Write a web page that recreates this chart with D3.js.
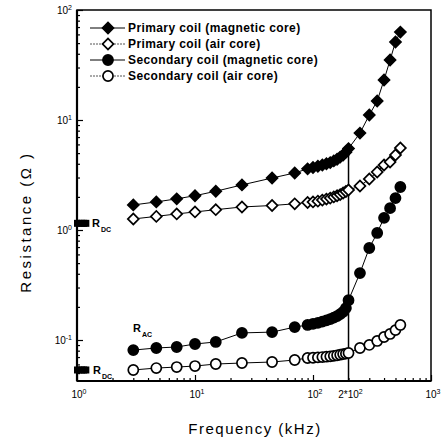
<!DOCTYPE html>
<html>
<head>
<meta charset="utf-8">
<script src="https://cdn.jsdelivr.net/npm/d3@7"></script>
<style>
  body { margin: 0; background: #fff; }
  svg { display: block; font-family: "Liberation Sans", Arial, sans-serif; }
</style>
</head>
<body>
<svg id="chart" width="444" height="441"></svg>
<script>
// frequency in kHz, same for every series
var freq = [3, 4.7, 7, 10, 15, 25, 45, 70, 90, 100, 110, 120, 130, 140, 150, 160, 170, 180, 190, 200,
            250, 300, 350, 400, 450, 500, 550];

// resistance in ohm
var primaryMagnetic = [1.69, 1.8, 1.92, 2.05, 2.25, 2.57, 2.97, 3.3, 3.6, 3.7, 3.8, 3.9, 4.0, 4.1, 4.25, 4.4, 4.6, 4.8, 5.1, 5.5,
                       7.6, 11.1, 14.9, 23.1, 35.1, 51.2, 63];
var primaryAir = [1.26, 1.33, 1.4, 1.46, 1.53, 1.62, 1.67, 1.73, 1.78, 1.8, 1.83, 1.87, 1.91, 1.95, 2.0, 2.05, 2.1, 2.17, 2.24, 2.31,
                  2.51, 2.91, 3.37, 3.9, 4.15, 4.81, 5.56];
var secondaryMagnetic = [0.081, 0.0846, 0.0864, 0.092, 0.096, 0.116, 0.118, 0.131, 0.137, 0.14, 0.143, 0.147, 0.151, 0.155, 0.16, 0.165, 0.172, 0.18, 0.195, 0.23,
                         0.406, 0.686, 0.94, 1.29, 1.58, 1.95, 2.46];
var secondaryAir = [0.0534, 0.0556, 0.0568, 0.058, 0.0605, 0.0618, 0.0631, 0.0658, 0.0686, 0.069, 0.0695, 0.07, 0.0705, 0.071, 0.0718, 0.0726, 0.0735, 0.0745, 0.0752, 0.0762,
                    0.0846, 0.0902, 0.098, 0.1065, 0.1135, 0.123, 0.137];

// DC resistance marks at the left edge
var rdcFreq = [1.0, 1.05, 1.1, 1.15, 1.2];
var rdcPrimary = 1.15;
var rdcSecondary = 0.0534;

var seriesNames = ["Primary coil (magnetic core)", "Primary coil (air core)",
                   "Secondary coil (magnetic core)", "Secondary coil (air core)"];

var markerFreq = 200;   // 2*10^2 marker line

var xTickValues = [1, 10, 100, 200, 1000];
var xTickBase = ["10", "10", "10", "2*10", "10"];
var xTickExp = ["0", "1", "2", "2", "3"];
var yTickValues = [0.1, 1, 10, 100];
var yTickExp = ["-1", "0", "1", "2"];

var svg = d3.select("#chart");

var x = d3.scaleLog().domain([1, 1000]).range([77, 431]);
var y = d3.scaleLog().domain([0.0424, 100]).range([381, 10]);

// minor ticks
var xMinor = [];
[1, 10, 100].forEach(function (d) {
    for (var k = 2; k <= 9; k++) xMinor.push(d * k);
});
var yMinor = [];
[0.01, 0.1, 1, 10].forEach(function (d) {
    for (var k = 2; k <= 9; k++) {
        var v = d * k;
        if (v > 0.0424 && v < 100) yMinor.push(v);
    }
});

svg.append("g")
    .attr("transform", "translate(0,381)")
    .call(d3.axisBottom(x).tickValues(xMinor).tickSize(-3).tickFormat(""))
    .call(function (g) { g.select(".domain").remove(); });
svg.append("g")
    .attr("transform", "translate(0,381)")
    .call(d3.axisBottom(x).tickValues([1, 10, 100, 1000]).tickSize(-6).tickFormat(""))
    .call(function (g) { g.select(".domain").remove(); });

svg.append("g")
    .attr("transform", "translate(77,0)")
    .call(d3.axisLeft(y).tickValues(yMinor).tickSize(-3).tickFormat(""))
    .call(function (g) { g.select(".domain").remove(); });
svg.append("g")
    .attr("transform", "translate(77,0)")
    .call(d3.axisLeft(y).tickValues(yTickValues).tickSize(-6).tickFormat(""))
    .call(function (g) { g.select(".domain").remove(); });

svg.selectAll(".tick line").attr("stroke", "#000").attr("stroke-width", 1.2);

// frame
svg.append("rect")
    .attr("x", 77).attr("y", 10)
    .attr("width", 431 - 77).attr("height", 381 - 10)
    .attr("fill", "none").attr("stroke", "#000").attr("stroke-width", 1.5);
svg.append("line")
    .attr("x1", 77).attr("x2", 77).attr("y1", 10).attr("y2", 381)
    .attr("stroke", "#000").attr("stroke-width", 2.2);
svg.append("line")
    .attr("x1", 77).attr("x2", 431).attr("y1", 381).attr("y2", 381)
    .attr("stroke", "#000").attr("stroke-width", 2.2);

// tick labels
var xl = svg.append("g").attr("font-size", 10).attr("text-anchor", "middle");
xTickValues.forEach(function (v, i) {
    var t = xl.append("text").attr("x", x(v) + 2).attr("y", 398);
    t.append("tspan").text(xTickBase[i]);
    t.append("tspan").attr("font-size", 7).attr("dy", -4).text(xTickExp[i]);
});
var yl = svg.append("g").attr("font-size", 10).attr("text-anchor", "end");
yTickValues.forEach(function (v, i) {
    var t = yl.append("text").attr("x", 72).attr("y", y(v) + 4);
    t.append("tspan").text("10");
    t.append("tspan").attr("font-size", 7).attr("dy", -4).text(yTickExp[i]);
});

// axis titles
svg.append("text")
    .attr("x", 255).attr("y", 434)
    .attr("text-anchor", "middle").attr("font-size", 15)
    .attr("letter-spacing", 1.5)
    .text("Frequency (kHz)");
svg.append("text")
    .attr("transform", "translate(31,222) rotate(-90)")
    .attr("text-anchor", "middle").attr("font-size", 15)
    .attr("letter-spacing", 2.5)
    .text("Resistance (\u03A9 )");

// 2*10^2 line
svg.append("line")
    .attr("x1", x(markerFreq)).attr("x2", x(markerFreq))
    .attr("y1", 381).attr("y2", y(primaryMagnetic[freq.indexOf(markerFreq)]))
    .attr("stroke", "#000").attr("stroke-width", 1.5);

var series = [
    { values: primaryMagnetic, shape: "diamond", filled: true },
    { values: primaryAir, shape: "diamond", filled: false },
    { values: secondaryMagnetic, shape: "circle", filled: true },
    { values: secondaryAir, shape: "circle", filled: false }
];

var line = d3.line()
    .x(function (d) { return x(d[0]); })
    .y(function (d) { return y(d[1]); });

function symbolPath(shape) {
    if (shape === "diamond") return d3.symbol().type(d3.symbolSquare).size(60)();
    return d3.symbol().type(d3.symbolCircle).size(80)();
}

function drawMarker(g, shape, filled, px, py) {
    g.append("path")
        .attr("d", symbolPath(shape))
        .attr("transform", "translate(" + px + "," + py + ")" + (shape === "diamond" ? " rotate(45)" : ""))
        .attr("fill", filled ? "#000" : "#fff")
        .attr("stroke", "#000")
        .attr("stroke-width", 1.7);
}

series.forEach(function (s) {
    var pts = freq.map(function (f, i) { return [f, s.values[i]]; });
    svg.append("path")
        .datum(pts)
        .attr("d", line)
        .attr("fill", "none")
        .attr("stroke", "#000")
        .attr("stroke-width", 1);
});
series.forEach(function (s) {
    var g = svg.append("g");
    freq.forEach(function (f, i) {
        drawMarker(g, s.shape, s.filled, x(f), y(s.values[i]));
    });
});

// R_DC marks
[rdcPrimary, rdcSecondary].forEach(function (v) {
    svg.selectAll(null)
        .data(rdcFreq)
        .enter()
        .append("rect")
        .attr("x", function (d) { return x(d) - 3; })
        .attr("y", y(v) - 3.5)
        .attr("width", 6).attr("height", 7)
        .attr("fill", "#000");
});

function subLabel(px, py, sub) {
    var t = svg.append("text")
        .attr("x", px).attr("y", py)
        .attr("font-size", 11).attr("font-weight", "bold");
    t.append("tspan").text("R");
    t.append("tspan").attr("font-size", 7).attr("dy", 5).attr("dx", 1).text(sub);
}
subLabel(92, y(rdcPrimary) + 4, "DC");
subLabel(93, y(rdcSecondary) + 4, "DC");
subLabel(133, 332, "AC");

// legend
var legend = svg.append("g");
seriesNames.forEach(function (name, i) {
    var ly = 28 + i * 16;
    legend.append("line")
        .attr("x1", 90).attr("x2", 125).attr("y1", ly).attr("y2", ly)
        .attr("stroke", i % 2 === 0 ? "#000" : "#555")
        .attr("stroke-width", 1)
        .attr("stroke-dasharray", i % 2 === 0 ? null : "2,1");
    drawMarker(legend, series[i].shape, series[i].filled, 108, ly);
    legend.append("text")
        .attr("x", 128).attr("y", ly + 4)
        .attr("font-size", 12).attr("font-weight", "bold")
        .attr("letter-spacing", 0.4)
        .text(name);
});
</script>
</body>
</html>
